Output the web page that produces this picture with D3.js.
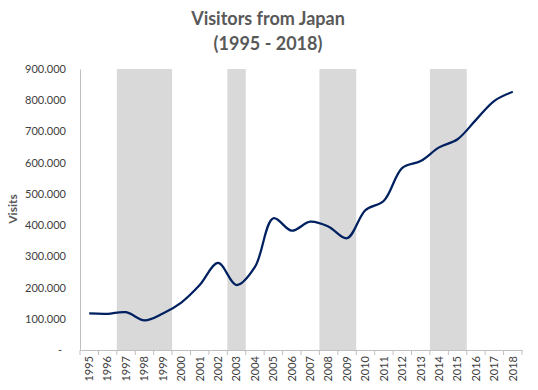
<!DOCTYPE html>
<html>
<head>
<meta charset="utf-8">
<script src="https://cdn.jsdelivr.net/npm/d3@7"></script>
<style>
  body { margin: 0; background: #fff; }
  text { font-family: Lato, "Open Sans", sans-serif; }
</style>
</head>
<body>
<div id="chart"></div>
<script>
// data
const years = ["1995","1996","1997","1998","1999","2000","2001","2002","2003","2004","2005","2006",
               "2007","2008","2009","2010","2011","2012","2013","2014","2015","2016","2017","2018"];
const visitors = [117000, 116000, 121000, 95000, 117000, 152000, 208000, 279000, 208000, 266000, 422000, 382000,
                  411000, 395000, 358000, 448000, 478000, 583000, 605000, 649000, 675000, 737000, 798000, 827000];
const shaded = [["1997","1999"], ["2003","2003"], ["2008","2009"], ["2014","2015"]];
const yTicks = [0, 100000, 200000, 300000, 400000, 500000, 600000, 700000, 800000, 900000];

const width = 538, height = 390;
const margin = {top: 69, right: 16, bottom: 40, left: 80};

const svg = d3.select("#chart").append("svg")
    .attr("width", width)
    .attr("height", height);

const x = d3.scaleBand()
    .domain(years)
    .range([margin.left, width - margin.right]);
const y = d3.scaleLinear()
    .domain([0, 900000])
    .range([height - margin.bottom, margin.top]);

const loc = d3.formatLocale({decimal: ",", thousands: ".", grouping: [3], currency: ["", ""]});
const fmt = loc.format(",d");

// shaded periods
svg.append("g")
  .selectAll("rect")
  .data(shaded)
  .join("rect")
    .attr("x", d => x(d[0]))
    .attr("y", y(900000))
    .attr("width", d => x(d[1]) + x.bandwidth() - x(d[0]))
    .attr("height", y(0) - y(900000))
    .attr("fill", "#d9d9d9");

// y axis
const yAxis = g => g
    .attr("transform", `translate(${margin.left},0)`)
    .call(d3.axisLeft(y).tickValues(yTicks).tickSize(0).tickPadding(14)
        .tickFormat(d => d === 0 ? "-" : fmt(d)))
    .call(g => g.select(".domain").attr("stroke", "#bfbfbf"))
    .call(g => g.selectAll("text").attr("fill", "#404040").style("font-size", "11px"))
    .call(g => g.selectAll(".tick").filter(d => d === 0).select("text").attr("dx", -4));
svg.append("g").call(yAxis);

// x axis
const xAxis = g => g
    .attr("transform", `translate(0,${height - margin.bottom})`)
    .call(d3.axisBottom(x).tickSize(0).tickSizeOuter(0))
    .call(g => g.select(".domain").attr("stroke", "#bfbfbf"))
    .call(g => g.selectAll(".tick text")
        .attr("fill", "#404040")
        .style("font-size", "11px")
        .attr("transform", "rotate(-90)")
        .attr("text-anchor", "end")
        .attr("x", -6)
        .attr("y", 0)
        .attr("dy", "0.35em"));
svg.append("g").call(xAxis);

// tick marks on category boundaries
svg.append("g")
  .selectAll("line")
  .data(years.concat(["end"]))
  .join("line")
    .attr("x1", (d, i) => margin.left + i * x.step())
    .attr("x2", (d, i) => margin.left + i * x.step())
    .attr("y1", height - margin.bottom)
    .attr("y2", height - margin.bottom + 5)
    .attr("stroke", "#bfbfbf");

// line
const line = d3.line()
    .x((d, i) => x(years[i]) + x.bandwidth() / 2)
    .y(d => y(d))
    .curve(d3.curveCatmullRom.alpha(0.5));

svg.append("path")
    .datum(visitors)
    .attr("fill", "none")
    .attr("stroke", "#002060")
    .attr("stroke-width", 2.25)
    .attr("d", line);

// titles
svg.append("text")
    .attr("x", 268).attr("y", 25)
    .attr("text-anchor", "middle")
    .attr("fill", "#595959")
    .style("font-size", "18px").style("font-weight", "bold")
    .text("Visitors from Japan");
svg.append("text")
    .attr("x", 268).attr("y", 50)
    .attr("text-anchor", "middle")
    .attr("fill", "#595959")
    .style("font-size", "18px").style("font-weight", "bold")
    .text("(1995 - 2018)");

svg.append("text")
    .attr("transform", "translate(17,209) rotate(-90)")
    .attr("text-anchor", "middle")
    .attr("fill", "#595959")
    .style("font-size", "12px").style("font-weight", "bold")
    .text("Visits");
</script>
</body>
</html>
